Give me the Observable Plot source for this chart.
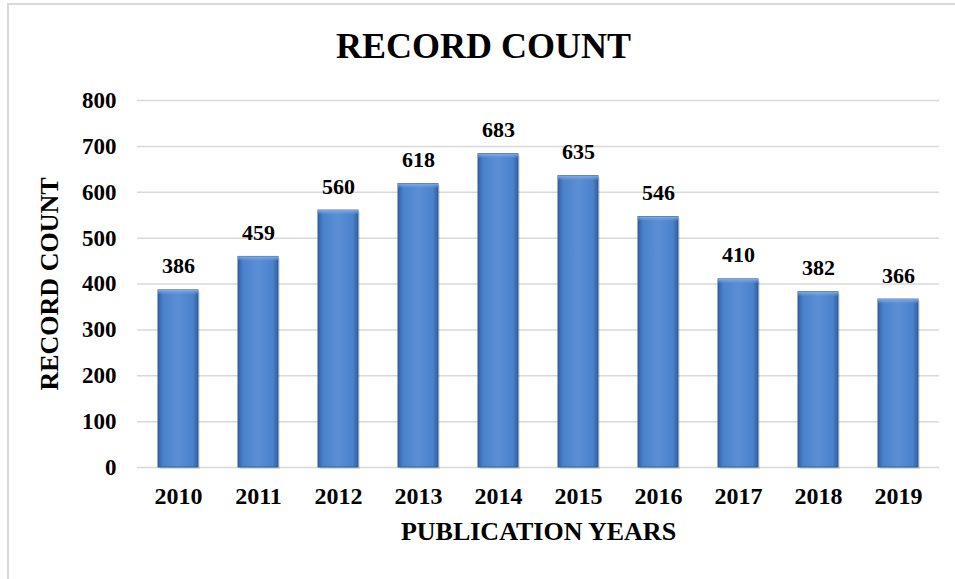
<!DOCTYPE html>
<html>
<head>
<meta charset="utf-8">
<script src="https://cdn.jsdelivr.net/npm/d3@7"></script>
<script src="https://cdn.jsdelivr.net/npm/@observablehq/plot@0.6"></script>
<style>
  html, body { margin: 0; padding: 0; background: #fff; }
  #wrap { position: relative; width: 955px; height: 579px; overflow: hidden; }
  #frame { position: absolute; left: 7px; top: 3px; width: 980px; height: 600px; border: 2px solid #d9d9d9; box-sizing: border-box; }
  #chart { position: absolute; left: 0; top: 0; }
  #chart svg text { font-family: 'Liberation Serif', 'Times New Roman', serif; font-weight: bold; }
</style>
</head>
<body>
<div id="wrap"><div id="frame"></div><div id="chart"></div></div>
<script>
const years = ["2010","2011","2012","2013","2014","2015","2016","2017","2018","2019"];
const counts = [386, 459, 560, 618, 683, 635, 546, 410, 382, 366];
const yTicks = [0, 100, 200, 300, 400, 500, 600, 700, 800];
const chartTitle = "RECORD COUNT";
const yTitle = "RECORD COUNT";
const xTitle = "PUBLICATION YEARS";

const data = years.map((y, i) => ({year: y, count: counts[i]}));
const serif = "Liberation Serif";

const plot = Plot.plot({
  width: 955,
  height: 579,
  marginLeft: 137,
  marginRight: 16,
  marginTop: 100,
  marginBottom: 112,
  style: {fontFamily: serif, fontWeight: "bold", color: "#000", background: "transparent"},
  x: {domain: years, paddingInner: 0.5, paddingOuter: 0.25, label: null},
  y: {domain: [0, 800], label: null},
  marks: [
    Plot.gridY(yTicks, {stroke: "#d9d9d9", strokeOpacity: 1, strokeWidth: 1.5}),
    Plot.barY(data, {x: "year", y: "count", fill: "#4a7ebf", dx: 2, dy: 2, fillOpacity: 0.2}),
    Plot.barY(data, {x: "year", y: "count", fill: "url(#barGrad)", stroke: "#345f96", strokeWidth: 1}),
    Plot.barY(data, {x: "year", y1: d => d.count, y2: d => d.count - 9, fill: "url(#topGrad)"}),
    Plot.axisY(yTicks, {tickSize: 0, tickPadding: 21, fontSize: 23, label: null, fontFamily: serif}),
    Plot.axisX({tickSize: 0, tickPadding: 19, fontSize: 24, label: null, fontFamily: serif}),
    Plot.text(data, {x: "year", y: "count", text: d => String(d.count), dy: -24, fontSize: 22, fill: "#000", fontFamily: serif}),
    Plot.text([chartTitle], {frameAnchor: "top", dy: -68, dx: -55, fontSize: 36, fill: "#000", fontFamily: serif}),
    Plot.text([xTitle], {frameAnchor: "bottom", dy: 72, fontSize: 26, fill: "#000", fontFamily: serif}),
    Plot.text([yTitle], {frameAnchor: "left", textAnchor: "middle", dx: -88, rotate: -90, fontSize: 26, fill: "#000", fontFamily: serif})
  ]
});

const svg = d3.select(plot);
const defs = svg.insert("defs", ":first-child");
const g = defs.append("linearGradient").attr("id", "barGrad").attr("x1", "0").attr("x2", "1").attr("y1", "0").attr("y2", "0");
[["0%", "#33609e"], ["13%", "#4c82cb"], ["50%", "#5a8fd6"], ["87%", "#4c82cb"], ["100%", "#33609e"]]
  .forEach(([o, c]) => g.append("stop").attr("offset", o).attr("stop-color", c));
const t = defs.append("linearGradient").attr("id", "topGrad").attr("x1", "0").attr("x2", "0").attr("y1", "0").attr("y2", "1");
[["0%", "#8fb5e8", 0.9], ["100%", "#6a9ddf", 0.2]]
  .forEach(([o, c, a]) => t.append("stop").attr("offset", o).attr("stop-color", c).attr("stop-opacity", a));

document.getElementById("chart").appendChild(plot);
</script>
</body>
</html>
